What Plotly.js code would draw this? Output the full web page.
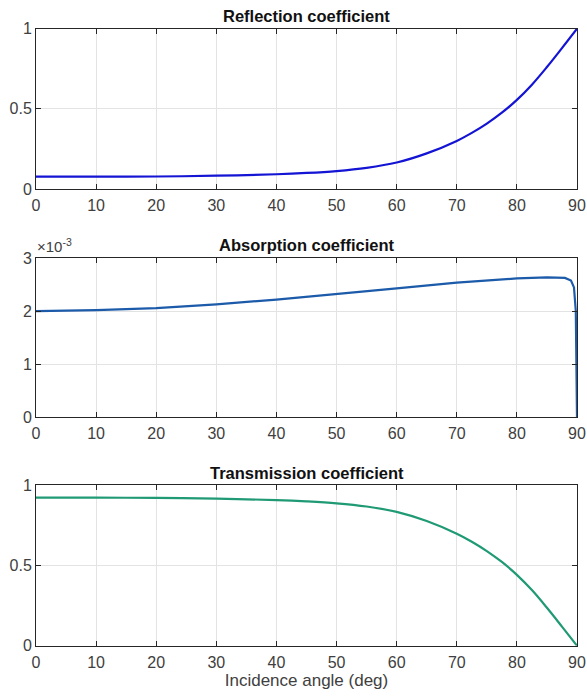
<!DOCTYPE html>
<html>
<head>
<meta charset="utf-8">
<script src="https://cdn.plot.ly/plotly-3.0.1.min.js"></script>
<style>html,body{margin:0;padding:0;background:#fff;}#chart{width:587px;height:697px;}</style>
</head>
<body>
<div id="chart"></div>
<script>
// Incidence angle (deg)
const anglesR = [0, 10, 20, 30, 40, 45, 50, 55, 60, 65, 70, 72.5, 75, 77.5, 80, 82.5, 85, 87.5, 90];
const reflection = [0.077, 0.077, 0.078, 0.083, 0.092, 0.100, 0.112, 0.132, 0.165, 0.222, 0.300, 0.350, 0.408, 0.476, 0.556, 0.651, 0.761, 0.879, 1.0];

const anglesA = [0, 10, 20, 30, 40, 50, 60, 70, 80, 85, 87, 88, 89, 89.5, 89.8, 89.95, 90];
const absorption = [0.00200, 0.00202, 0.00206, 0.00213, 0.00222, 0.00232, 0.00243, 0.00254, 0.00262, 0.00264, 0.00264, 0.00263, 0.00258, 0.00245, 0.00200, 0.00100, 0];

const anglesT = [0, 10, 20, 30, 40, 45, 50, 55, 60, 65, 70, 72.5, 75, 77.5, 80, 82.5, 85, 87.5, 90];
const transmission = [0.921, 0.921, 0.920, 0.915, 0.906, 0.898, 0.886, 0.866, 0.833, 0.776, 0.697, 0.647, 0.589, 0.521, 0.441, 0.346, 0.236, 0.119, 0];

const xTicks = [0, 10, 20, 30, 40, 50, 60, 70, 80, 90];
const titles = ['Reflection coefficient', 'Absorption coefficient', 'Transmission coefficient'];
const xLabel = 'Incidence angle (deg)';

const W = 587, H = 697;
const FONT = 'Liberation Sans, Arial, Helvetica, sans-serif';
const dx = [36 / W, 577 / W];
function dom(top, bot) { return [(H - bot) / H, (H - top) / H]; }

const tickFont = {family: FONT, size: 16, color: '#404040'};
const axisCommon = {
  showline: true, mirror: 'ticks', linecolor: '#262626', linewidth: 1,
  ticks: 'inside', ticklen: 5, tickcolor: '#262626', tickwidth: 1,
  showgrid: true, gridcolor: '#e3e3e3', gridwidth: 1, zeroline: false,
  tickfont: tickFont, fixedrange: true
};
function xa(anchor) {
  return Object.assign({}, axisCommon, {
    domain: dx, range: [0, 90], tickvals: xTicks, anchor: anchor, ticklabelstandoff: 2
  });
}

const traces = [
  {x: anglesR, y: reflection, xaxis: 'x', yaxis: 'y', mode: 'lines', line: {color: '#1414d4', width: 2.2, shape: 'spline', smoothing: 1}},
  {x: anglesA, y: absorption, xaxis: 'x2', yaxis: 'y2', mode: 'lines', line: {color: '#1c5aaa', width: 2.2}},
  {x: anglesT, y: transmission, xaxis: 'x3', yaxis: 'y3', mode: 'lines', line: {color: '#1f9a74', width: 2.2, shape: 'spline', smoothing: 1}}
];

const titleFont = {family: FONT, size: 16.5, color: '#111'};
const layout = {
  width: W, height: H, margin: {l: 0, r: 0, t: 0, b: 0},
  paper_bgcolor: '#fff', plot_bgcolor: '#fff', showlegend: false,
  xaxis: xa('y'),
  yaxis: Object.assign({}, axisCommon, {domain: dom(28.7, 189), range: [0, 1], tickvals: [0, 0.5, 1], ticktext: ['0', '0.5', '1'], anchor: 'x', ticklabelstandoff: 0}),
  xaxis2: xa('y2'),
  yaxis2: Object.assign({}, axisCommon, {domain: dom(258.3, 417), range: [0, 0.003], tickvals: [0, 0.001, 0.002, 0.003], ticktext: ['0', '1', '2', '3'], anchor: 'x2', ticklabelstandoff: 0}),
  xaxis3: Object.assign(xa('y3'), {title: {text: xLabel, font: {family: FONT, size: 17, color: '#404040'}, standoff: 3}}),
  yaxis3: Object.assign({}, axisCommon, {domain: dom(485, 645.7), range: [0, 1], tickvals: [0, 0.5, 1], ticktext: ['0', '0.5', '1'], anchor: 'x3', ticklabelstandoff: 0}),
  annotations: [
    {text: '<b>' + titles[0] + '</b>', xref: 'paper', yref: 'paper', x: 306.5 / W, y: (H - 16) / H, xanchor: 'center', yanchor: 'middle', showarrow: false, font: titleFont},
    {text: '<b>' + titles[1] + '</b>', xref: 'paper', yref: 'paper', x: 306.5 / W, y: (H - 245) / H, xanchor: 'center', yanchor: 'middle', showarrow: false, font: titleFont},
    {text: '<b>' + titles[2] + '</b>', xref: 'paper', yref: 'paper', x: 306.5 / W, y: (H - 473) / H, xanchor: 'center', yanchor: 'middle', showarrow: false, font: titleFont},
    {text: '×10<sup>-3</sup>', xref: 'paper', yref: 'paper', x: 35 / W, y: (H - 246) / H, xanchor: 'left', yanchor: 'middle', showarrow: false, font: {family: FONT, size: 15, color: '#404040'}}
  ]
};

Plotly.newPlot('chart', traces, layout, {staticPlot: true, displayModeBar: false});
</script>
</body>
</html>
